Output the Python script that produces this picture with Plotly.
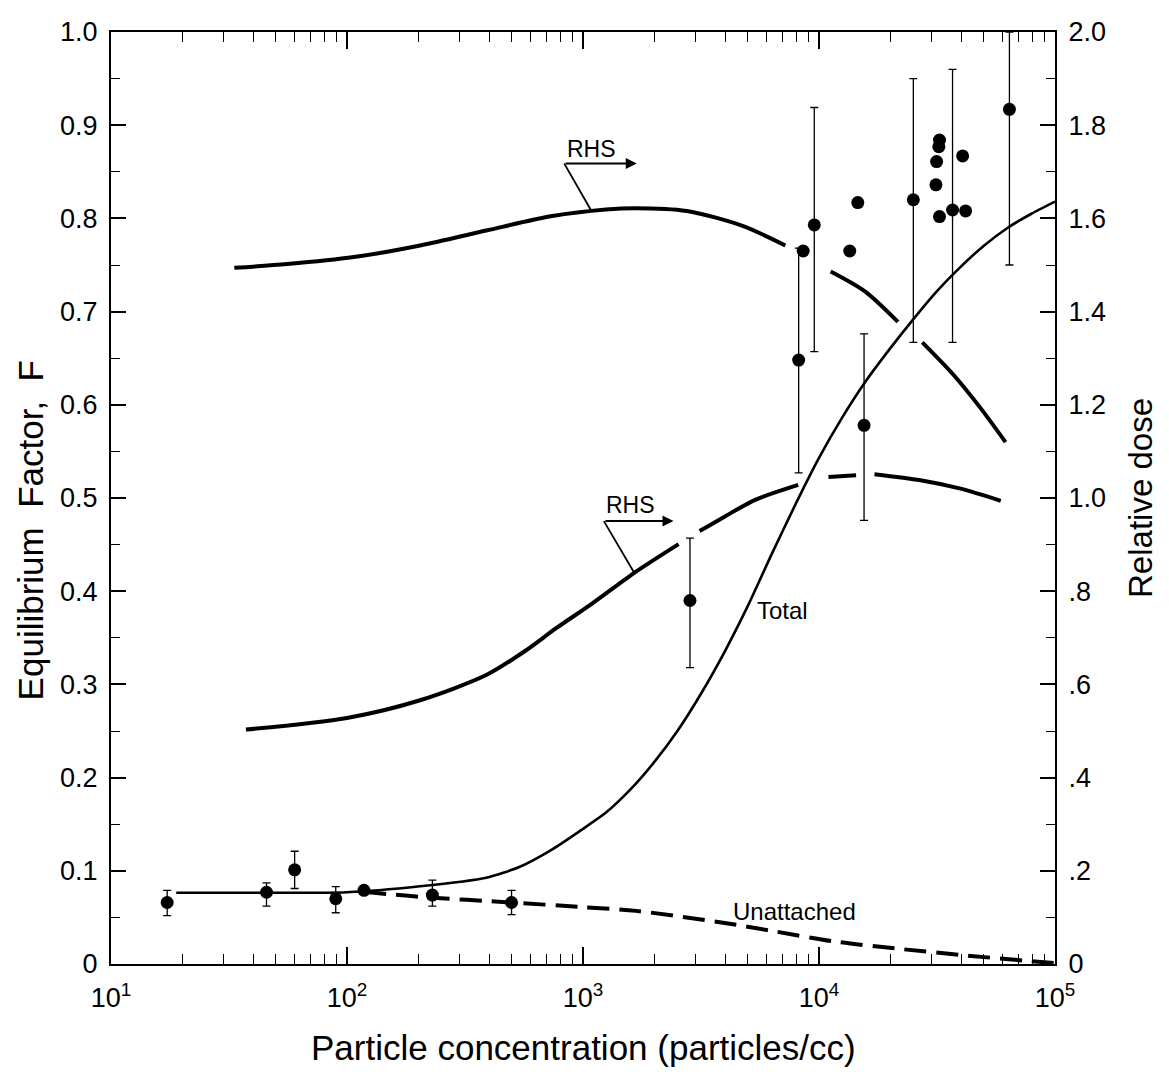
import math
import plotly.graph_objects as go

# ---------------- data ----------------
# measured points: particle concentration, equilibrium factor, error-bar top / bottom
pt_x = [17.3, 45.6, 60.0, 89.6, 118, 230, 498, 2840, 8200, 8570, 9550, 13500, 14600,
        15520, 25100, 31300, 31500, 32200, 32400, 32400, 36800, 40600, 41800, 64100]
pt_y = [0.066, 0.077, 0.101, 0.070, 0.079, 0.074, 0.066, 0.390, 0.648, 0.765, 0.793,
        0.765, 0.817, 0.578, 0.820, 0.836, 0.861, 0.877, 0.884, 0.802, 0.809, 0.867,
        0.808, 0.917]
pt_hi = [0.079, 0.087, 0.121, 0.083, None, 0.090, 0.079, 0.457, 0.768, None, 0.919,
         None, None, 0.676, 0.950, None, None, None, None, None, 0.960, None, None, 1.0]
pt_lo = [0.052, 0.062, 0.081, 0.055, None, 0.062, 0.053, 0.318, 0.527, None, 0.657,
         None, None, 0.476, 0.667, None, None, None, None, None, 0.667, None, None, 0.750]

# "Total" equilibrium factor curve (left axis)
total_x = [18.9, 31.6, 100, 204, 389, 537, 741, 1000, 1259, 1585, 1995, 2512, 3162, 3981,
           5012, 6310, 7943, 10000, 12590, 15850, 19950, 25120, 31620, 39810, 50120,
           63100, 79430, 100000]
total_y = [0.0765, 0.0765, 0.077, 0.0834, 0.0926, 0.104, 0.123, 0.145, 0.163, 0.187,
           0.216, 0.25, 0.29, 0.335, 0.385, 0.44, 0.493, 0.543, 0.587, 0.626, 0.66,
           0.692, 0.722, 0.748, 0.771, 0.79, 0.805, 0.818]

# "Unattached" curve (left axis, dashed)
unatt_x = [118, 204, 498, 1000, 1679, 3981, 6166, 11750, 22390, 42660, 79430, 100000]
unatt_y = [0.0775, 0.072, 0.066, 0.061, 0.057, 0.044, 0.036, 0.024, 0.016, 0.009, 0.003, 0.001]

# relative dose curves (right axis), None = break in the drawn line
rhs_up_x = [33.3, 55.8, 107, 204, 389, 741, 1250, 1660, 2750, 4740, 7200, None,
            11200, 15700, 21600, None, 27400, 37200, 48200, 61700]
rhs_up_y = [1.494, 1.502, 1.517, 1.542, 1.574, 1.605, 1.619, 1.622, 1.616, 1.584, 1.542, None,
            1.486, 1.443, 1.378, None, 1.334, 1.264, 1.194, 1.12]

rhs_lo_x = [37.3, 100, 204, 389, 562, 767, 1096, 1667, 2541, None, 3119, 3981, 5370, 8166,
            None, 10965, 14355, None, 17180, 26900, 39800, 58900]
rhs_lo_y = [0.503, 0.528, 0.566, 0.62, 0.67, 0.72, 0.774, 0.841, 0.901, None, 0.929, 0.96,
            0.996, 1.028, None, 1.045, 1.049, None, 1.051, 1.038, 1.02, 0.994]

# axis ticks
x_tickvals = [10, 100, 1000, 10000, 100000]
x_ticktext = ["10<sup>1</sup>", "10<sup>2</sup>", "10<sup>3</sup>", "10<sup>4</sup>", "10<sup>5</sup>"]
y_tickvals = [0, 0.1, 0.2, 0.3, 0.4, 0.5, 0.6, 0.7, 0.8, 0.9, 1.0]
y_ticktext = ["0", "0.1", "0.2", "0.3", "0.4", "0.5", "0.6", "0.7", "0.8", "0.9", "1.0"]
y2_tickvals = [0, 0.2, 0.4, 0.6, 0.8, 1.0, 1.2, 1.4, 1.6, 1.8, 2.0]
y2_ticktext = ["0", ".2", ".4", ".6", ".8", "1.0", "1.2", "1.4", "1.6", "1.8", "2.0"]

# "RHS" label pointers (x, y on left axis): arrow tail, arrow tip, pointer foot on curve
rhs_up_ptr_x = [832, 1690, 1077]
rhs_up_ptr_y = [0.859, 0.859, 0.8096]
rhs_lo_ptr_x = [1226, 2418, 1641]
rhs_lo_ptr_y = [0.4752, 0.4752, 0.4206]

# ---------------- figure ----------------
FONT = "Liberation Sans, Arial, Helvetica, sans-serif"
fig = go.Figure()

fig.add_trace(go.Scatter(x=rhs_up_x, y=rhs_up_y, yaxis="y2", mode="lines",
                         line=dict(color="black", width=4, shape="spline", smoothing=0.8),
                         connectgaps=False, hoverinfo="skip"))
fig.add_trace(go.Scatter(x=rhs_lo_x, y=rhs_lo_y, yaxis="y2", mode="lines",
                         line=dict(color="black", width=4, shape="spline", smoothing=0.8),
                         connectgaps=False, hoverinfo="skip"))
fig.add_trace(go.Scatter(x=total_x, y=total_y, mode="lines",
                         line=dict(color="black", width=2.6, shape="spline", smoothing=0.6)))
fig.add_trace(go.Scatter(x=unatt_x, y=unatt_y, mode="lines",
                         line=dict(color="black", width=4, dash="22px,10px", shape="spline", smoothing=0.8)))

# pointer diagonals
for px, py in [(rhs_up_ptr_x, rhs_up_ptr_y), (rhs_lo_ptr_x, rhs_lo_ptr_y)]:
    fig.add_trace(go.Scatter(x=[px[0], px[2]], y=[py[0], py[2]], mode="lines",
                             line=dict(color="black", width=1.8)))

# points with error bars
ex, ey, eh, el = [], [], [], []
nx, ny = [], []
for x, y, h, l in zip(pt_x, pt_y, pt_hi, pt_lo):
    if h is None:
        nx.append(x); ny.append(y)
    else:
        ex.append(x); ey.append(y); eh.append(h - y); el.append(y - l)

fig.add_trace(go.Scatter(x=ex, y=ey, mode="markers",
                         marker=dict(color="black", size=13),
                         error_y=dict(type="data", symmetric=False, array=eh, arrayminus=el,
                                      color="black", thickness=1.3, width=4)))
fig.add_trace(go.Scatter(x=nx, y=ny, mode="markers", marker=dict(color="black", size=13)))

ann = []
for px, py in [(rhs_up_ptr_x, rhs_up_ptr_y), (rhs_lo_ptr_x, rhs_lo_ptr_y)]:
    ann.append(dict(x=math.log10(px[1]), y=py[1], ax=math.log10(px[0]), ay=py[0],
                    xref="x", yref="y", axref="x", ayref="y", text="", showarrow=True,
                    arrowhead=2, arrowsize=1.1, arrowwidth=2, arrowcolor="black", standoff=0))
ann.append(dict(x=math.log10(840), y=0.874, xref="x", yref="y", text="RHS", showarrow=False,
                xanchor="left", yanchor="middle", font=dict(size=23, family=FONT, color="black")))
ann.append(dict(x=math.log10(1222), y=0.493, xref="x", yref="y", text="RHS", showarrow=False,
                xanchor="left", yanchor="middle", font=dict(size=23, family=FONT, color="black")))
ann.append(dict(x=math.log10(5350), y=0.379, xref="x", yref="y", text="Total", showarrow=False,
                xanchor="left", yanchor="middle", font=dict(size=24, family=FONT, color="black")))
ann.append(dict(x=math.log10(4250), y=0.056, xref="x", yref="y", text="Unattached", showarrow=False,
                xanchor="left", yanchor="middle", font=dict(size=24, family=FONT, color="black")))
# axis titles
ann.append(dict(x=-0.085, y=0.465, xref="paper", yref="paper",
                text="Equilibrium\u00a0\u00a0Factor,\u00a0\u00a0F",
                textangle=-90, showarrow=False, xanchor="center", yanchor="middle",
                font=dict(size=35, family=FONT, color="black")))
ann.append(dict(x=0.5, y=-0.09, xref="paper", yref="paper", text="Particle concentration (particles/cc)",
                showarrow=False, xanchor="center", yanchor="middle",
                font=dict(size=35, family=FONT, color="black")))
ann.append(dict(x=1.09, y=0.5, xref="paper", yref="paper", text="Relative dose",
                textangle=-90, showarrow=False, xanchor="center", yanchor="middle",
                font=dict(size=33, family=FONT, color="black")))

minor_x = [m * 10 ** k for k in range(1, 5) for m in range(2, 10)]

fig.update_layout(
    width=1169, height=1083,
    margin=dict(l=103, r=122, t=9, b=127),
    paper_bgcolor="white", plot_bgcolor="white",
    showlegend=False,
    font=dict(family=FONT, color="black"),
    annotations=ann,
    xaxis=dict(type="log", range=[1, 5], tickmode="array", tickvals=x_tickvals, ticktext=x_ticktext,
               ticks="inside", ticklen=17, tickwidth=1.5, tickcolor="black",
               showline=True, linecolor="black", linewidth=2, mirror="ticks",
               showgrid=False, zeroline=False, tickfont=dict(size=27, family=FONT),
               ticklabelstandoff=9, ticklabeloverflow="allow",
               minor=dict(tickmode="array", tickvals=minor_x, ticks="inside", ticklen=10,
                          tickwidth=1.2, tickcolor="black", showgrid=False)),
    yaxis=dict(range=[0, 1], tickmode="array", tickvals=y_tickvals, ticktext=y_ticktext,
               ticks="inside", ticklen=15, tickwidth=1.5, tickcolor="black",
               showline=True, linecolor="black", linewidth=2, mirror=False,
               showgrid=False, zeroline=False, tickfont=dict(size=27, family=FONT),
               ticklabelstandoff=6, ticklabeloverflow="allow",
               minor=dict(dtick=0.05, tick0=0, ticks="inside", ticklen=9, tickwidth=1.2,
                          tickcolor="black", showgrid=False)),
    yaxis2=dict(range=[0, 2], overlaying="y", side="right", tickmode="array",
                tickvals=y2_tickvals, ticktext=y2_ticktext,
                ticks="inside", ticklen=15, tickwidth=1.5, tickcolor="black",
                showline=True, linecolor="black", linewidth=2,
                showgrid=False, zeroline=False, tickfont=dict(size=27, family=FONT),
                ticklabelstandoff=6, ticklabeloverflow="allow",
                minor=dict(dtick=0.1, tick0=0, ticks="inside", ticklen=9, tickwidth=1.2,
                           tickcolor="black", showgrid=False)),
)

fig.write_html("out.html")
